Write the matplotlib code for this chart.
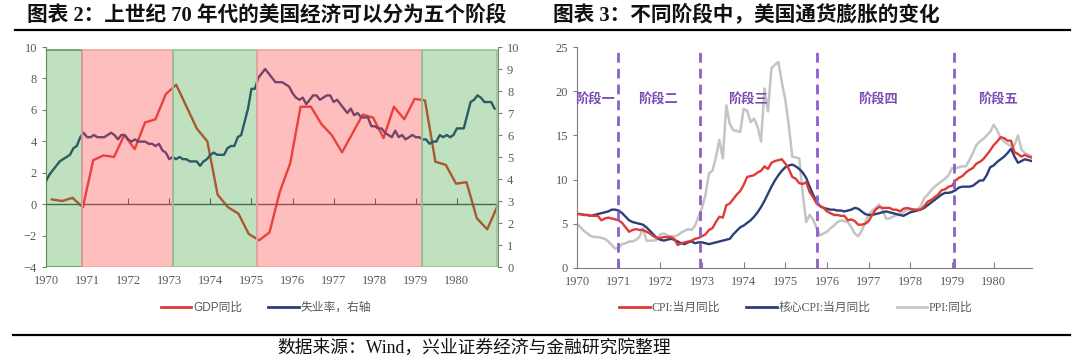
import numpy as np
import matplotlib.pyplot as plt
from matplotlib.lines import Line2D

plt.rcParams['font.family'] = ['Liberation Serif', 'Noto Sans CJK SC', 'DejaVu Sans']

years = list(range(1970, 1981))
year_labels = [str(y) for y in years]

# ---- 图表2 data ----
# GDP yoy, quarterly
gdp_yoy = [0.3, 0.2, 0.4, -0.2, 2.8, 3.1, 3.0, 4.4, 3.5, 5.2, 5.4, 7.0,
           7.6, 6.2, 4.8, 4.0, 0.6, -0.2, -0.6, -1.9, -2.3, -1.8, 0.8, 2.6,
           6.2, 6.2, 5.1, 4.4, 3.3, 4.5, 5.7, 5.5, 4.2, 6.2, 5.4, 6.7,
           6.6, 2.7, 2.5, 1.3, 1.4, -0.9, -1.6, -0.1]
gdp_first, gdp_last = 1970.14, 1980.99

# unemployment rate, monthly (right axis)
unemployment = [
    3.9, 4.2, 4.4, 4.6, 4.8, 4.9, 5.0, 5.1, 5.4, 5.5, 5.9, 6.1,
    5.9, 5.9, 6.0, 5.9, 5.9, 5.9, 6.0, 6.1, 6.0, 5.8, 6.0, 6.0,
    5.8, 5.7, 5.8, 5.7, 5.7, 5.7, 5.6, 5.6, 5.5, 5.6, 5.3, 5.2,
    4.9, 5.0, 4.9, 5.0, 4.9, 4.9, 4.8, 4.8, 4.8, 4.6, 4.8, 4.9,
    5.1, 5.2, 5.1, 5.1, 5.1, 5.4, 5.5, 5.5, 5.9, 6.0, 6.6, 7.2,
    8.1, 8.1, 8.6, 8.8, 9.0, 8.8, 8.6, 8.4, 8.4, 8.4, 8.3, 8.2,
    7.9, 7.7, 7.6, 7.7, 7.4, 7.6, 7.8, 7.8, 7.6, 7.7, 7.8, 7.8,
    7.5, 7.6, 7.4, 7.2, 7.0, 7.2, 6.9, 7.0, 6.8, 6.8, 6.8, 6.4,
    6.4, 6.3, 6.3, 6.1, 6.0, 5.9, 6.2, 5.9, 6.0, 5.8, 5.9, 6.0,
    5.9, 5.9, 5.8, 5.8, 5.6, 5.7, 5.7, 6.0, 5.9, 6.0, 5.9, 6.0,
    6.3, 6.3, 6.3, 6.9, 7.5, 7.6, 7.8, 7.7, 7.5, 7.5, 7.5, 7.2]

phase_bounds = [1970.0, 1970.87, 1973.1, 1975.14, 1979.14, 1980.97]
phase_kind = ['up', 'down', 'up', 'down', 'up']

# ---- 图表3 data (monthly yoy, %) ----
cpi = [
    6.1, 6.1, 6.0, 6.0, 5.9, 5.9, 5.9, 5.4, 5.6, 5.7, 5.6, 5.5,
    5.4, 5.1, 4.6, 4.1, 4.3, 4.4, 4.3, 4.3, 4.1, 3.9, 3.6, 3.4,
    3.4, 3.5, 3.5, 3.5, 3.3, 2.6, 2.8, 2.9, 3.0, 3.1, 3.3, 3.4,
    3.6, 3.8, 4.3, 4.5, 5.2, 5.8, 5.7, 7.1, 7.3, 7.8, 8.3, 8.7,
    9.4, 10.3, 10.4, 10.5, 10.8, 11.0, 11.5, 11.2, 11.9, 12.1, 12.2, 12.3,
    11.8, 11.2, 10.3, 10.1, 9.6, 9.5, 9.7, 8.6, 8.0, 7.3, 7.0, 6.8,
    6.4, 6.2, 6.0, 6.0, 5.9, 5.9, 5.4, 5.5, 5.3, 4.9, 4.9, 5.0,
    5.3, 6.0, 6.6, 6.9, 6.8, 6.8, 6.8, 6.6, 6.6, 6.4, 6.7, 6.8,
    6.7, 6.6, 6.6, 6.6, 7.0, 7.5, 7.7, 8.0, 8.3, 8.8, 8.9, 9.2,
    9.3, 9.9, 10.2, 10.4, 10.8, 11.1, 11.3, 11.8, 12.0, 12.3, 12.8, 13.3,
    13.9, 14.3, 14.8, 14.7, 14.4, 14.4, 13.1, 12.9, 12.6, 12.8, 12.6, 12.5]

core_cpi = [
    6.1, 6.1, 6.0, 6.0, 5.9, 6.0, 6.1, 6.2, 6.3, 6.4, 6.6, 6.6,
    6.5, 6.2, 5.8, 5.4, 5.2, 5.1, 5.0, 4.9, 4.6, 4.2, 3.8, 3.4,
    3.2, 3.1, 3.2, 3.3, 3.2, 3.0, 2.8, 2.7, 2.9, 3.0, 2.8, 2.9,
    2.9, 2.8, 2.7, 2.8, 2.9, 3.0, 3.1, 3.2, 3.3, 3.8, 4.2, 4.6,
    4.8, 5.1, 5.4, 5.8, 6.3, 6.9, 7.6, 8.4, 9.2, 9.9, 10.5, 11.0,
    11.4, 11.6, 11.7, 11.5, 11.2, 10.8, 10.2, 9.2, 8.3, 7.5, 7.0, 6.8,
    6.7, 6.6, 6.6, 6.5, 6.5, 6.4, 6.5, 6.6, 6.8, 6.7, 6.4, 6.1,
    6.0, 6.0, 6.1, 6.2, 6.3, 6.4, 6.3, 6.2, 6.1, 6.0, 5.9, 6.1,
    6.3, 6.4, 6.5, 6.6, 6.8, 7.1, 7.4, 7.7, 8.0, 8.3, 8.5, 8.5,
    8.6, 8.8, 9.1, 9.2, 9.2, 9.2, 9.3, 9.6, 9.9, 9.9, 10.5, 11.4,
    11.6, 12.0, 12.3, 12.6, 13.0, 13.5, 12.6, 11.9, 12.1, 12.3, 12.2, 12.1]

ppi = [
    5.0, 4.6, 4.2, 3.9, 3.6, 3.5, 3.5, 3.4, 3.3, 3.0, 2.6, 2.2,
    2.3, 2.7, 2.8, 3.0, 3.0, 3.2, 3.5, 4.5, 3.1, 3.1, 3.1, 3.2,
    3.8, 3.9, 3.7, 3.6, 3.6, 3.7, 4.0, 4.2, 4.4, 4.3, 4.8, 5.8,
    6.8, 8.3, 10.7, 11.0, 12.5, 14.5, 12.4, 18.4, 16.3, 15.6, 15.5, 15.4,
    18.0, 17.8, 16.5, 16.9, 16.0, 14.3, 20.3, 17.7, 22.6, 23.0, 23.3, 21.0,
    19.0, 16.1, 12.6, 12.5, 12.4, 8.5, 5.2, 6.0, 5.5, 4.5, 3.7, 3.9,
    4.1, 4.5, 4.8, 5.2, 5.4, 5.3, 5.2, 4.6, 3.9, 3.6, 4.2, 5.2,
    6.0, 6.5, 6.8, 7.2, 6.6, 5.6, 5.6, 5.8, 6.0, 6.0, 6.3, 6.6,
    6.6, 6.6, 6.6, 7.0, 7.9, 8.3, 8.8, 9.2, 9.5, 9.8, 10.1, 10.5,
    11.3, 11.3, 11.4, 11.5, 11.5, 12.2, 13.0, 13.9, 14.3, 14.6, 15.0, 15.4,
    16.2, 15.6, 14.7, 14.3, 14.0, 13.8, 13.9, 15.0, 13.4, 13.0, 12.8, 12.6]

stage_lines = [1970.99, 1972.96, 1975.76, 1979.06]
stage_names = ['阶段一', '阶段二', '阶段三', '阶段四', '阶段五']
stage_label_x = [1970.43, 1971.94, 1974.1, 1977.22, 1980.1]
stage_label_y = 19.0

month_x = 1970 + np.arange(len(cpi)) / 12
gdp_x = np.linspace(gdp_first, gdp_last, len(gdp_yoy))

W, H = 1080, 362
fig = plt.figure(figsize=(W / 100, H / 100), dpi=100)

grey = '#595959'
red = '#e03a32'
navy = '#2b3f7a'
sans_cjk = ['Liberation Sans', 'Noto Sans CJK SC']
serif_cjk = ['Liberation Serif', 'Noto Sans CJK SC']

# ================= left chart =================
ax = fig.add_axes([46 / W, 1 - 267 / H, (498 - 46) / W, (267 - 47) / H])
ax.set_xlim(1970, 1981)
ax.set_ylim(-4, 10)
ax.plot(gdp_x, gdp_yoy, color=red, lw=1.7, zorder=2)
ax.axhline(0, color='#555555', lw=1.0, zorder=3)
ax.set_yticks(range(-4, 11, 2))
ax.set_xticks(years)
ax.set_xticklabels(year_labels)
ax.tick_params(axis='x', length=0, pad=6, labelsize=9, labelcolor=grey)
ax.tick_params(axis='y', length=3, direction='out', labelsize=9,
               labelcolor=grey, color='#7f7f7f')
for s in ['top', 'bottom', 'right']:
    ax.spines[s].set_visible(False)
ax.spines['left'].set_color('#7f7f7f')

zero_frac = (0 - ax.get_ylim()[0]) / (ax.get_ylim()[1] - ax.get_ylim()[0])
sec = ax.secondary_xaxis(zero_frac)
sec.set_xticks(years[2:])
sec.tick_params(direction='in', length=4, labelbottom=False, color='#555555')
sec.spines['bottom'].set_visible(False)

ax2 = ax.twinx()
ax2.set_ylim(0, 10)
ax2.plot(month_x[:len(unemployment)], unemployment, color=navy, lw=1.7, zorder=2)
ax2.set_yticks(range(0, 11))
ax2.tick_params(axis='y', length=3, direction='out', labelsize=9,
                labelcolor=grey, color='#7f7f7f')
for s in ['top', 'bottom', 'left']:
    ax2.spines[s].set_visible(False)
ax2.spines['right'].set_color('#7f7f7f')

span_face = {'up': (0.18, 0.62, 0.18, 0.30), 'down': (1.0, 0.30, 0.30, 0.36)}
span_edge = {'up': '#8cc48c', 'down': '#eea0a0'}
span_top = (9.8 + 4) / 14
for i, kind in enumerate(phase_kind):
    edge = '#4f8f4f' if i == 0 else span_edge[kind]
    ax2.axvspan(phase_bounds[i], phase_bounds[i + 1], ymin=0, ymax=span_top,
                facecolor=span_face[kind], edgecolor=edge, lw=1.1, zorder=3)

fig.legend(handles=[Line2D([], [], color=red, lw=2), Line2D([], [], color=navy, lw=2)],
           labels=['GDP同比', '失业率，右轴'], loc='center',
           bbox_to_anchor=(266 / W, 1 - 308 / H), ncol=2, frameon=False,
           handlelength=2.6, columnspacing=2.2, handletextpad=0.15,
           prop={'family': sans_cjk, 'size': 8.5}, labelcolor=grey)

# ================= right chart =================
bx = fig.add_axes([577 / W, 1 - 268 / H, (1032 - 577) / W, (268 - 47) / H])
bx.set_xlim(1970, 1980.92)
bx.set_ylim(0, 25)
bx.plot(month_x, ppi, color='#c4c4c4', lw=1.8, zorder=1)
bx.plot(month_x, core_cpi, color=navy, lw=1.7, zorder=2)
bx.plot(month_x, cpi, color=red, lw=1.7, zorder=3)
bx.vlines(stage_lines, 0, 24.6, colors='#8d5fc7', linestyles=(0, (3.5, 2.2)),
          lw=2.0, zorder=4)
for name, sx in zip(stage_names, stage_label_x):
    bx.text(sx, stage_label_y, name, color='#7a4cb4', fontsize=9.5,
            fontweight='bold', ha='center', va='center', family=serif_cjk)
bx.set_xticks(years)
bx.set_xticklabels(year_labels)
bx.set_yticks(range(0, 26, 5))
bx.tick_params(axis='x', direction='in', length=4, pad=6, labelsize=9,
               labelcolor=grey, color='#7f7f7f')
bx.tick_params(axis='y', direction='out', length=3, labelsize=9,
               labelcolor=grey, color='#7f7f7f')
for s in ['top', 'right']:
    bx.spines[s].set_visible(False)
for s in ['left', 'bottom']:
    bx.spines[s].set_color('#7f7f7f')

fig.legend(handles=[Line2D([], [], color=red, lw=2), Line2D([], [], color=navy, lw=2),
                    Line2D([], [], color='#c8c8c8', lw=2)],
           labels=['CPI:当月同比', '核心CPI:当月同比', 'PPI:同比'], loc='center',
           bbox_to_anchor=(796 / W, 1 - 308 / H), ncol=3, frameon=False,
           handlelength=2.6, columnspacing=2.2, handletextpad=0.15,
           prop={'family': serif_cjk, 'size': 8.5}, labelcolor=grey)

# ================= titles, rules, source =================
fig.text(27 / W, 1 - 15 / H, '图表 2：上世纪 70 年代的美国经济可以分为五个阶段',
         fontsize=14.9, fontweight='bold', va='center', color='#111111')
fig.text(553 / W, 1 - 15 / H, '图表 3：不同阶段中，美国通货膨胀的变化',
         fontsize=14.9, fontweight='bold', va='center', color='#111111')
fig.add_artist(Line2D([15 / W, 1070 / W], [1 - 30 / H] * 2, color='black', lw=1.6))
fig.add_artist(Line2D([13 / W, 1070 / W], [1 - 335 / H] * 2, color='black', lw=1.6))
fig.text(277 / W, 1 - 348 / H, '数据来源：Wind，兴业证券经济与金融研究院整理',
         fontsize=12.8, va='center', color='#111111')

fig.savefig('out.png', dpi=100)
